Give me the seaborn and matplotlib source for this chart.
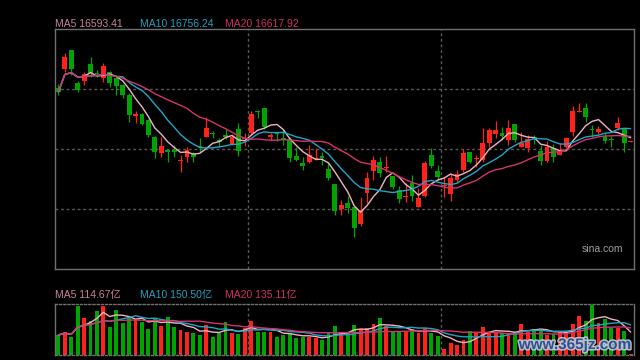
import numpy as np
import pandas as pd
import matplotlib
matplotlib.use("Agg")
import matplotlib.pyplot as plt
import matplotlib.patheffects as pe
import seaborn as sns

# daily index values (90 sessions)
opens = [17476, 17818, 18160, 17566, 17607, 17908, 17746, 17656, 17764, 17656,
         17530, 17350, 16972, 17008, 16900, 16594, 16306, 16360, 16360, 16153,
         16234, 16306, 16423, 16599, 16666, 16540, 16630, 16468, 16738, 16553,
         16661, 17067, 17121, 16599, 16679, 16571, 16558, 16252, 16131, 16149,
         16198, 16257, 16018, 15748, 15298, 15401, 15329, 15028, 15591, 15987,
         16139, 16041, 15892, 15640, 15509, 15761, 15339, 15532, 16270, 15987,
         15703, 15568, 15820, 16000, 16329, 16202, 16180, 16491, 16648, 16671,
         16540, 16828, 16419, 16391, 16594, 16342, 16167, 16401, 16270, 16419,
         16689, 17044, 17121, 16738, 16689, 16612, 16549, 16751, 16751, 16504]
highs = [17548, 18106, 18160, 17602, 17764, 18034, 17800, 17926, 17782, 17692,
         17548, 17386, 17062, 17026, 16918, 16612, 16594, 16378, 16450, 16270,
         16414, 16324, 16576, 16954, 16702, 16576, 16738, 16630, 16851, 16671,
         17067, 17080, 17121, 16671, 16684, 16733, 16599, 16409, 16239, 16450,
         16391, 16329, 16121, 15748, 15460, 15532, 15339, 15509, 15969, 16252,
         16239, 16252, 15892, 15712, 15771, 15910, 15671, 16162, 16401, 16090,
         15879, 15928, 16000, 16373, 16329, 16270, 16751, 16751, 16882, 16769,
         16900, 16828, 16679, 16630, 16630, 16450, 16522, 16463, 16481, 16599,
         17152, 17201, 17201, 16810, 16792, 16661, 16617, 16959, 16751, 16513]
lows = [17350, 17764, 17710, 17404, 17530, 17674, 17674, 17584, 17494, 17350,
        17296, 16864, 16846, 16810, 16594, 16216, 16234, 16144, 16234, 15964,
        16144, 16144, 16324, 16594, 16576, 16414, 16558, 16450, 16257, 16432,
        16630, 16931, 16733, 16540, 16522, 16450, 16139, 16162, 16000, 16121,
        16180, 16090, 15820, 15190, 15190, 15226, 14799, 14992, 15411, 15820,
        15879, 15969, 15653, 15411, 15429, 15442, 15329, 15519, 16031, 15820,
        15519, 15447, 15789, 15969, 16121, 16059, 16149, 16419, 16571, 16540,
        16450, 16509, 16419, 16329, 16468, 16090, 16149, 16149, 16270, 16391,
        16617, 17039, 16869, 16599, 16648, 16481, 16419, 16720, 16324, 16504]
closes = [17404, 18034, 17818, 17440, 17728, 17746, 17728, 17872, 17566, 17512,
          17350, 16990, 17008, 16828, 16630, 16324, 16432, 16324, 16324, 16180,
          16360, 16234, 16405, 16756, 16648, 16509, 16599, 16599, 16347, 16581,
          17008, 17049, 16769, 16630, 16643, 16540, 16221, 16180, 16072, 16270,
          16216, 16221, 15861, 15267, 15370, 15321, 14961, 15280, 15861, 16180,
          15951, 16059, 15689, 15478, 15532, 15532, 15501, 16121, 16072, 15869,
          15721, 15851, 15928, 16301, 16149, 16220, 16481, 16720, 16720, 16612,
          16761, 16540, 16491, 16553, 16576, 16167, 16419, 16239, 16329, 16571,
          17062, 17062, 16959, 16720, 16733, 16527, 16531, 16851, 16486, 16513]
# turnover, 亿
volumes = [100, 117, 92, 245, 187, 170, 220, 242, 142, 225,
           162, 187, 178, 167, 130, 187, 147, 192, 142, 125,
           117, 112, 100, 150, 92, 108, 167, 112, 105, 133,
           170, 117, 117, 117, 92, 100, 108, 87, 92, 92,
           83, 75, 108, 145, 117, 108, 150, 128, 137, 155,
           187, 145, 117, 117, 117, 128, 112, 133, 108, 95,
           30, 58, 50, 75, 120, 113, 142, 117, 117, 108,
           108, 117, 155, 117, 128, 130, 100, 105, 115, 115,
           155, 195, 170, 250, 160, 180, 135, 135, 118, 5]
month_breaks = [30, 60]
ma_windows = [5, 10, 20]
price_labels = ["MA5 16593.41", "MA10 16756.24", "MA20 16617.92"]
volume_labels = ["MA5 114.67亿", "MA10 150.50亿", "MA20 135.11亿"]

RED = "#ff2218"
GREEN = "#00a300"
GRID = "#5a5a5a"
BORDER = "#707070"
ma_line_colors = ["#f0b2c2", "#1ea6c8", "#d2346e"]
ma_text_colors = ["#c9829c", "#23a0c0", "#d02e66"]

sns.set_style("dark", {"axes.facecolor": "black", "figure.facecolor": "black"})
plt.rcParams["font.family"] = ["Liberation Sans", "Noto Sans CJK SC"]

df = pd.DataFrame({"open": opens, "high": highs, "low": lows,
                   "close": closes, "volume": volumes})
df["idx"] = np.arange(len(df))
df["up"] = df["close"] >= df["open"]
colors = np.where(df["up"], RED, GREEN)

fig = plt.figure(figsize=(6.4, 3.6), dpi=100, facecolor="black")
ax = fig.add_axes([0.0852, 0.2514, 0.9062, 0.6667])
axv = fig.add_axes([0.0852, 0.0139, 0.9062, 0.1403])

ylo, yhi = 14209, 18529
xlo, xhi = -0.6, len(df) - 0.4

# candles
ax.vlines(df["idx"], df["low"], df["high"], colors=colors, lw=0.9, zorder=2)
body_bottom = np.minimum(df["open"], df["close"])
body_h = np.maximum((df["close"] - df["open"]).abs(), 18)
ax.bar(df["idx"], body_h, bottom=body_bottom, width=0.75, color=colors,
       linewidth=0, zorder=3)

for w, c in zip(ma_windows, ma_line_colors):
    sns.lineplot(x=df["idx"], y=df["close"].rolling(w, min_periods=1).mean(),
                 ax=ax, color=c, lw=1, zorder=4)

ax.set_xlim(xlo, xhi)
ax.set_ylim(ylo, yhi)
ax.set_yticks(np.linspace(ylo, yhi, 5)[1:-1])
ax.set_xticks([])
ax.grid(False)
for yv in np.linspace(ylo, yhi, 5)[1:-1]:
    ax.axhline(yv, color=GRID, lw=1, ls=(0, (2, 2)), zorder=1)
ax.tick_params(length=0, labelleft=False, labelbottom=False)
ax.set_xlabel("")
ax.set_ylabel("")
for s in ax.spines.values():
    s.set_color(BORDER)
    s.set_linewidth(1)

# volume panel
sns.barplot(x=df["idx"], y=df["volume"], hue=df["up"],
            palette={True: RED, False: GREEN}, native_scale=True, dodge=False,
            width=0.6, saturation=1, legend=False, ax=axv, linewidth=0, zorder=2)
for w, c in zip(ma_windows, ma_line_colors):
    sns.lineplot(x=df["idx"], y=df["volume"].rolling(w, min_periods=1).mean(),
                 ax=axv, color=c, lw=1, zorder=4)
axv.set_xlim(xlo, xhi)
axv.set_ylim(0, 252)
axv.set_xticks([])
axv.set_yticks([])
axv.grid(False)
axv.set_xlabel("")
axv.set_ylabel("")
for name, s in axv.spines.items():
    s.set_color(BORDER)
    s.set_linewidth(1)
    if name in ("top", "bottom"):
        s.set_linestyle((0, (1.5, 1.5)))

for a in (ax, axv):
    for b in month_breaks:
        a.axvline(b - 0.5, color=GRID, lw=1, ls=(0, (2, 2)), zorder=1)

# MA legends
label_x = [55, 140, 225]
for lx, t, c in zip(label_x, price_labels, ma_text_colors):
    fig.text(lx / 640, 1 - 24 / 360, t, color=c, fontsize=7.5, va="center", ha="left")
for lx, t, c in zip(label_x, volume_labels, ma_text_colors):
    fig.text(lx / 640, 1 - 295 / 360, t, color=c, fontsize=7.5, va="center", ha="left")

fig.text(582 / 640, 1 - 249 / 360, "sina.com", color="#a0a0a0", fontsize=7.5,
         va="center", ha="left")
fig.text(575 / 640, 1 - 345 / 360, "www.365jz.com", color="#22468e",
         fontsize=11, fontweight="bold", va="center", ha="center", alpha=0.92,
         path_effects=[pe.withStroke(linewidth=2.2, foreground="#c4ccd8")])

fig.savefig("out.png", dpi=100, facecolor="black")
